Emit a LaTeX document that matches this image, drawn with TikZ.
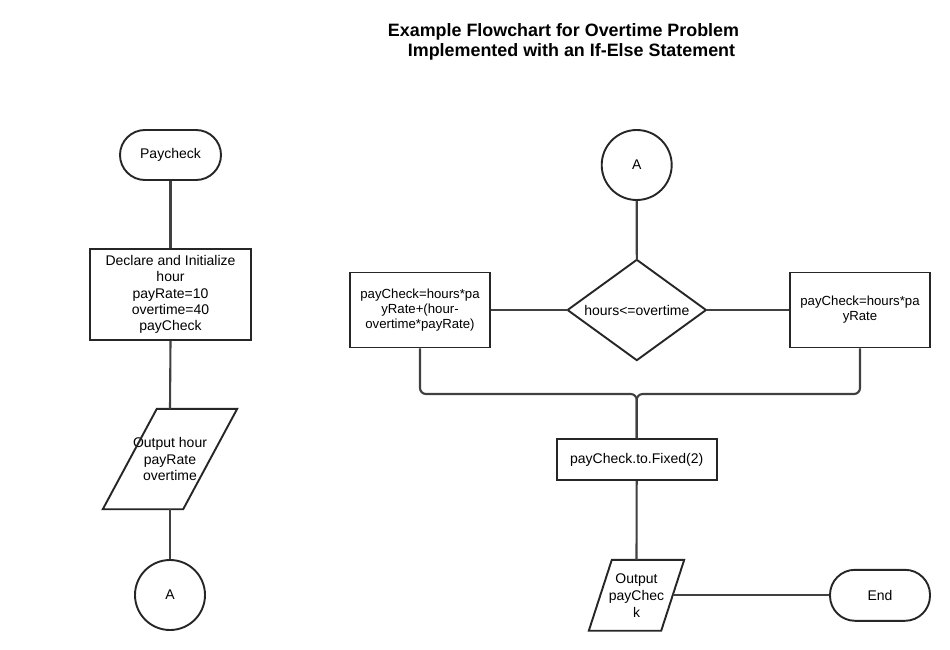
\documentclass[tikz,border=0pt]{standalone}
\usepackage{fontspec}
\setmainfont{Liberation Sans}
\usetikzlibrary{calc}
\begin{document}
\begin{tikzpicture}[x=1pt,y=-1pt,
  shp/.style={draw=black!85, line width=1.9pt, fill=white, text=black, inner sep=0pt, align=center, font=\fontsize{14}{16.3}\selectfont},
  term/.style={shp, rectangle, rounded corners=25pt, minimum width=101pt, minimum height=50pt},
  procbox/.style={shp, rectangle},
  conn/.style={shp, circle, minimum size=70pt},
  ghost/.style={inner sep=0pt, align=center, text=black, font=\fontsize{14}{16.3}\selectfont},
  link/.style={draw=black!75, line width=2.1pt},
  outline/.style={draw=black!85, line width=1.9pt, line join=miter},
  small/.style={font=\fontsize{13.2}{15}\selectfont}
]
\fill[white] (0,0) rectangle (950,650);
\useasboundingbox (0,0) rectangle (950,650);

% title
\node[align=center, inner sep=0pt, font=\bfseries\fontsize{17.9}{19.5}\selectfont] (title) at (563.5,42)
  {Example Flowchart for Overtime Problem\\\hspace*{16pt}Implemented with an If-Else Statement};

% left column
\node[term] (pay) at (170.5,155) {Paycheck};
\node[procbox, minimum width=161pt, minimum height=91pt] (decl) at (170.5,294.5)
  {Declare and Initialize\\hour\\payRate=10\\overtime=40\\payCheck};
\node[ghost, minimum width=134pt, minimum height=100pt] (out1) at (170,459) {Output hour\\payRate\\overtime};
\draw[outline] ($(out1.north west)+(54,0)$) -- (out1.north east) -- ($(out1.south east)+(-54,0)$) -- (out1.south west) -- cycle;
\node[conn] (a1) at (170,595) {A};

\draw[link] (pay.south) -- (decl.north);
\draw[link] (decl.south) -- (out1.north);
\draw[link] (out1.south) -- (a1.north);

% right part
\node[conn] (a2) at (636.7,165) {A};
\node[ghost, minimum width=138pt, minimum height=100pt] (dec) at (636.8,310) {hours<=overtime};
\draw[outline] (dec.north) -- (dec.east) -- (dec.south) -- (dec.west) -- cycle;
\node[procbox, small, minimum width=140pt, minimum height=75pt] (lb) at (420,310)
  {payCheck=hours*pa\\yRate+(hour-\\overtime*payRate)};
\node[procbox, small, minimum width=140pt, minimum height=75pt] (rb) at (860,310)
  {payCheck=hours*pa\\yRate};
\node[procbox, minimum width=160pt, minimum height=41pt] (fx) at (636.7,459.7) {payCheck.to.Fixed(2)};
\node[ghost, minimum width=95pt, minimum height=70.5pt, font=\fontsize{14}{17}\selectfont] (out2) at (636.5,595.3) {Output\\payChec\\k};
\draw[outline] ($(out2.north west)+(23,0)$) -- (out2.north east) -- ($(out2.south east)+(-23,0)$) -- (out2.south west) -- cycle;
\coordinate (out2r) at ($(out2.east)+(-11.5,0)$);
\node[term, minimum width=100pt, minimum height=51pt] (end) at (880,595.3) {End};

\coordinate (join) at (636.7,394);
\draw[link] (a2.south) -- (dec.north);
\draw[link] (dec.west) -- (lb.east);
\draw[link] (dec.east) -- (rb.west);
\draw[link, rounded corners=6pt] (lb.south) |- (join) -- (fx.north);
\draw[link, rounded corners=6pt] (rb.south) |- (join) -- (fx.north);
\draw[link] (fx.south) -- (out2.north);
\draw[link] (out2r) -- (end.west);
\end{tikzpicture}
\end{document}
